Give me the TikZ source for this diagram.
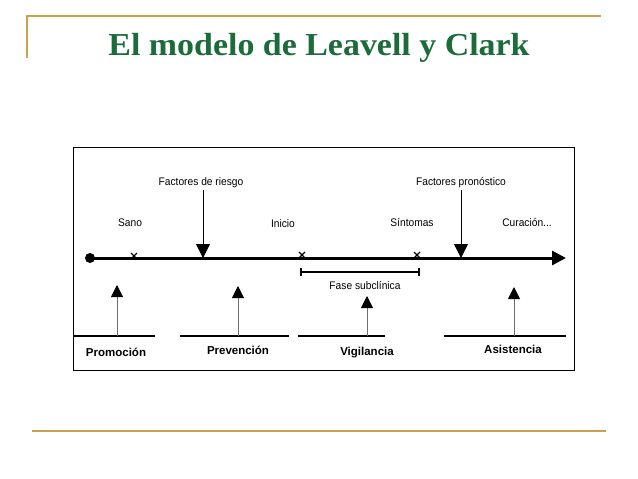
\documentclass[tikz,border=0pt]{standalone}
\usepackage{fontspec}
\setmainfont{Liberation Serif}
\setsansfont{Liberation Sans}
\usetikzlibrary{arrows.meta,calc}
\definecolor{gold}{HTML}{C9A24A}
\definecolor{titlegreen}{HTML}{1C6B3A}
\definecolor{stemgray}{HTML}{6E6E6E}
\tikzset{
  small/.style={font=\sffamily\fontsize{11}{12}\selectfont, inner sep=0pt, anchor=base, xscale=0.93},
  phase/.style={font=\sffamily\bfseries\fontsize{11.5}{12}\selectfont, inner sep=0pt, anchor=base},
  downarrow/.style={line width=1pt, -{Triangle[length=14pt,width=14pt]}},
  uparrow/.style={draw=stemgray, line width=1pt, -{Triangle[length=12pt,width=12pt,color=black]}},
  baseline seg/.style={line width=1.2pt},
  xmark/.style={line width=1.3pt},
}
\begin{document}
\begin{tikzpicture}[x=1pt,y=-1pt]
\useasboundingbox (0,0) rectangle (638,479);
% frame lines
\draw[gold, line width=1.4pt] (27,58) -- (27,16) -- (601,16);
\draw[gold, line width=1.4pt] (32,431) -- (606,431);
% title
\node[font=\fontsize{32}{34}\selectfont\bfseries, text=titlegreen, inner sep=0pt, anchor=base, xscale=1.06] (title) at (319,55) {El modelo de Leavell y Clark};
% box
\draw[line width=0.9pt] (73,147) rectangle (574,370);
% timeline
\coordinate (start) at (90,258);
\coordinate (tip) at (566,258);
\draw[line width=3pt, -{Triangle[length=14pt,width=14pt]}] (start) -- (tip);
\fill (start) circle (5);
% x marks
\coordinate (x1) at (134,256);
\coordinate (x2) at (302,255);
\coordinate (x3) at (417,255);
\foreach \c in {x1,x2,x3}{
  \draw[xmark] ($(\c)+(-3,-3)$) -- ($(\c)+(3,3)$);
  \draw[xmark] ($(\c)+(-3,3)$) -- ($(\c)+(3,-3)$);
}
% labels above
\node[small] (sano) at (130,226) {Sano};
\node[small] (inicio) at (283,227) {Inicio};
\node[small] (sint) at (412,226) {Síntomas};
\node[small] (cura) at (527,226) {Curación...};
\node[small] (fr) at (201,185) {Factores de riesgo};
\node[small] (fp) at (461,185) {Factores pronóstico};
\coordinate (fra) at (203,258);
\coordinate (fpa) at (461,258);
\draw[downarrow] (203,190) -- (fra);
\draw[downarrow] (461,190) -- (fpa);
% subclinical phase
\coordinate (sa) at (301,272);
\coordinate (sb) at (419,272);
\draw[line width=1.8pt] (sa) -- (sb);
\draw[line width=1.8pt] ($(sa)+(0,-4)$) -- ($(sa)+(0,4)$);
\draw[line width=1.8pt] ($(sb)+(0,-4)$) -- ($(sb)+(0,4)$);
\node[small] (fs) at (365,289) {Fase subclínica};
% bottom baselines
\draw[baseline seg] (73,336) -- (155,336);
\draw[baseline seg] (180,336) -- (289,336);
\draw[baseline seg] (298,336) -- (385,336);
\draw[baseline seg] (444,336) -- (566,336);
% up arrows
\coordinate (u1) at (117,285);
\coordinate (u2) at (238,286);
\coordinate (u3) at (367,296);
\coordinate (u4) at (514,287);
\draw[uparrow] (117,336) -- (u1);
\draw[uparrow] (238,336) -- (u2);
\draw[uparrow] (367,336) -- (u3);
\draw[uparrow] (514,336) -- (u4);
% phase labels
\node[phase] (p1) at (116,356) {Promoción};
\node[phase] (p2) at (238,354) {Prevención};
\node[phase] (p3) at (367,355) {Vigilancia};
\node[phase] (p4) at (513,353) {Asistencia};
\end{tikzpicture}
\end{document}
